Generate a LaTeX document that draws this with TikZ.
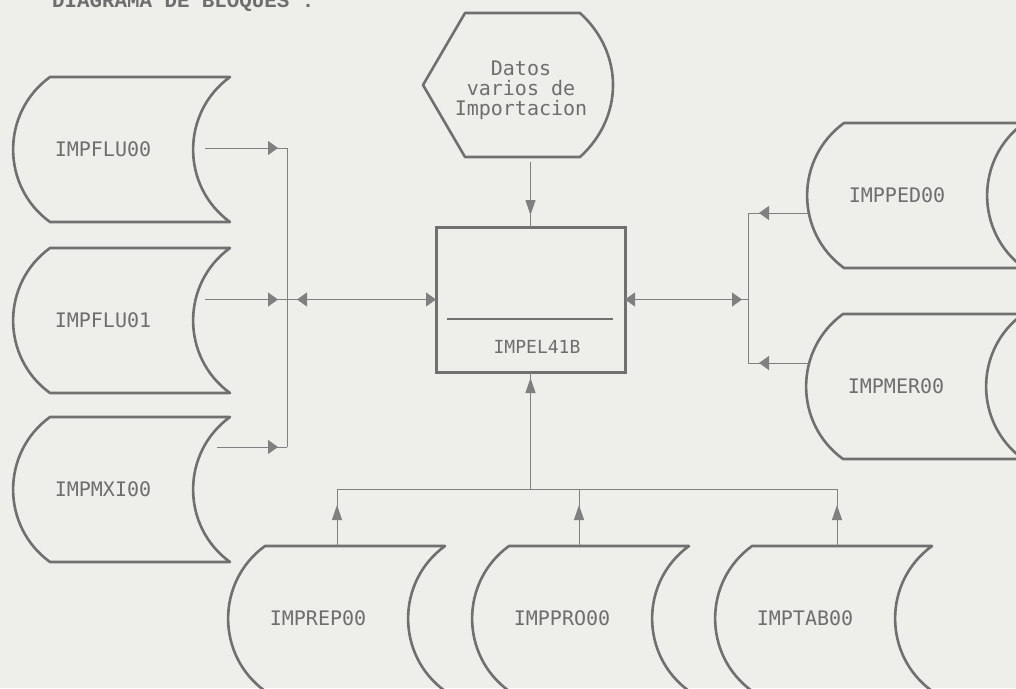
\documentclass[tikz,border=0pt]{standalone}
\usepackage{fontspec}
\setmonofont{DejaVu Sans Mono}
\newfontfamily\titlefont{Liberation Mono}
\usetikzlibrary{arrows.meta,calc,decorations.markings}
\definecolor{bg}{RGB}{238,238,235}
\definecolor{linec}{RGB}{128,128,128}
\definecolor{shapec}{RGB}{112,112,112}
\definecolor{textc}{RGB}{110,110,110}
\newcommand{\lblfont}{\ttfamily\fontsize{20}{20}\selectfont}
\newcommand{\drumshape}[1]{%
  \draw[shapeline] ($(#1.north west)+(37,0)$) -- ($(#1.north east)+(37,0)$)
    .. controls ($(#1.north east)+(-12.2,35.7)$) and ($(#1.south east)+(-12.2,-35.7)$) .. ($(#1.south east)+(37,0)$)
    -- ($(#1.south west)+(37,0)$)
    .. controls ($(#1.south west)+(-12.2,-35.7)$) and ($(#1.north west)+(-12.2,35.7)$) .. cycle;}
\tikzset{
  htip/.tip={Triangle[length=10pt,width=14pt]},
  vtip/.tip={Triangle[length=15pt,width=10pt]},
}
\begin{document}
\begin{tikzpicture}[x=1pt,y=-1pt,
  shapeline/.style={draw=shapec, line width=2.6pt, line join=round},
  conn/.style={draw=linec, line width=1pt},
  drum/.style={draw=none, minimum width=180, minimum height=145, outer sep=0, inner sep=0, font=\lblfont, text=textc},
  htipat/.style={postaction={decorate, decoration={markings, mark=at position #1 with {\arrow[linec]{htip}}}}},
  htiprev/.style={postaction={decorate, decoration={markings, mark=at position #1 with {\arrowreversed[linec]{htip}}}}},
  vtipat/.style={postaction={decorate, decoration={markings, mark=at position #1 with {\arrow[linec]{vtip}}}}},
]
\fill[bg] (0,0) rectangle (1016,688);
\clip (0,0) rectangle (1016,688);

% title
\node[anchor=base west, font=\titlefont\bfseries\fontsize{20.8}{22}\selectfont, text=textc, inner sep=0] (title) at (52,8) {DIAGRAMA DE BLOQUES :};

% data stores
\node[drum] (flu00) at (103,149.5) {IMPFLU00};
\node[drum] (flu01) at (103,320.5) {IMPFLU01};
\node[drum] (mxi00) at (103,489.5) {IMPMXI00};
\node[drum] (ped00) at (897,195.5) {IMPPED00};
\node[drum] (mer00) at (896,386.5) {IMPMER00};
\node[drum] (rep00) at (318,618.5) {IMPREP00};
\node[drum] (pro00) at (562,618.5) {IMPPRO00};
\node[drum] (tab00) at (805,618.5) {IMPTAB00};
\foreach \n in {flu00,flu01,mxi00,ped00,mer00,rep00,pro00,tab00} {\drumshape{\n}}

% display symbol
\node[draw=none, minimum height=144, outer sep=0, inner sep=0, align=center, font=\lblfont, text=textc] (datos) at (521,90) {Datos\\varios de\\Importacion};
\draw[shapeline] (465,13) -- (580,13) .. controls (624,53) and (624,117) .. (580,157) -- (465,157) -- (423,85) -- cycle;

% process box
\node[draw=shapec, line width=3pt, minimum width=189, minimum height=145, outer sep=0] (box) at (530.5,299.5) {};
\draw[draw=shapec, line width=1.6pt] ($(box.west)+(11,19.5)$) -- ($(box.east)+(-12,19.5)$);
\node[font=\ttfamily\fontsize{18}{18}\selectfont, text=textc] (boxlabel) at (537,347) {IMPEL41B};

% left bus
\coordinate (lb1) at (287,148);
\coordinate (lb2) at (287,299.5);
\coordinate (lb3) at (287,447);
\draw[conn] (lb1) -- (lb3);
\draw[conn, htipat=-9pt] ($(flu00.east)+(12,-1.5)$) -- (lb1);
\draw[conn, htipat=-9pt] ($(flu01.east)+(12,-21)$) -- (lb2);
\draw[conn, htipat=-9pt] ($(mxi00.east)+(24,-42.5)$) -- (lb3);
\draw[conn, -{htip}, htiprev=10pt] (lb2) -- (box.west);

% right bus
\coordinate (rb1) at (748,213);
\coordinate (rb2) at (748,299.5);
\coordinate (rb3) at (748,363);
\draw[conn] (rb1) -- (rb3);
\draw[conn, {htip}-, htipat=-6pt] (box.east) -- (rb2);
\draw[conn, htipat=-11pt] ($(ped00.west)+(1,17.5)$) -- (rb1);
\draw[conn, htipat=-11pt] ($(mer00.west)+(3,-23.5)$) -- (rb3);

% top connection
\draw[conn, vtipat=-12pt] (box.north |- datos.south) -- (box.north);

% bottom bus
\coordinate (bbL) at (337,489);
\coordinate (bbM) at (579,489);
\coordinate (bbR) at (837,489);
\path (box.south) ++(0,117) coordinate (bb);
\draw[conn] (bbL) -- (bbR);
\draw[conn, vtipat=-6pt] (bb) -- (box.south);
\draw[conn, vtipat=-16pt] ($(rep00.north)+(19,0)$) -- (bbL);
\draw[conn, vtipat=-16pt] ($(pro00.north)+(17,0)$) -- (bbM);
\draw[conn, vtipat=-16pt] ($(tab00.north)+(32,0)$) -- (bbR);
\end{tikzpicture}
\end{document}
